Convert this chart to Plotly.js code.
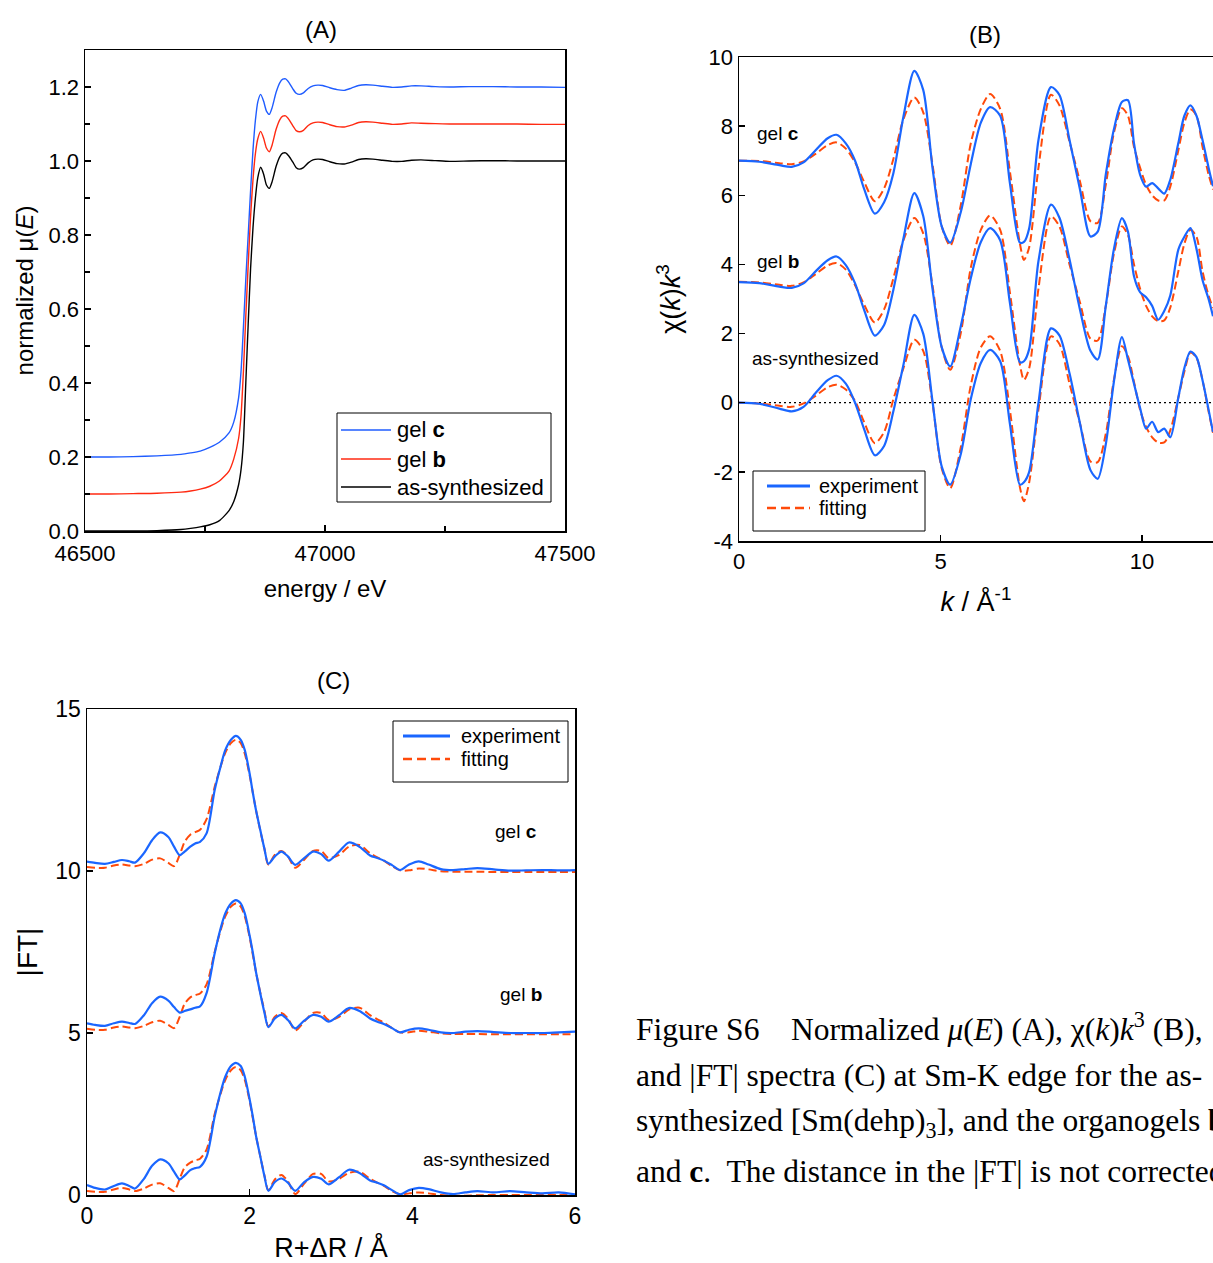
<!DOCTYPE html>
<html>
<head>
<meta charset="utf-8">
<script src="https://cdn.plot.ly/plotly-3.0.1.min.js"></script>
<style>
html,body{margin:0;padding:0;background:#fff;overflow:hidden;}
#chart{width:1213px;height:1263px;}
</style>
</head>
<body>
<div id="chart"></div>
<script>
// ---------- Panel A : normalized mu(E) ----------
const energyA = [46500,46550,46600,46650,46700,46720,46740,46760,46780,46800,
46810,46820,46825,46830,46835,46840,46845,46850,46855,46860,
46866,46872,46878,46884,46890,46898,46906,46912,46918,46925,
46933,46940,46947,46955,46965,46975,46985,46995,47010,47025,
47040,47055,47070,47085,47100,47120,47140,47160,47180,47200,
47230,47260,47300,47350,47400,47450,47500];
const muGelC = [0.200,0.200,0.201,0.203,0.207,0.211,0.216,0.226,0.240,0.265,
0.295,0.360,0.430,0.550,0.680,0.800,0.920,1.030,1.110,1.160,
1.180,1.162,1.135,1.126,1.145,1.185,1.212,1.221,1.222,1.212,
1.195,1.183,1.180,1.184,1.196,1.203,1.205,1.204,1.198,1.193,
1.191,1.197,1.204,1.206,1.205,1.202,1.199,1.200,1.203,1.203,
1.201,1.200,1.201,1.201,1.200,1.200,1.199];
const muGelB = [0.100,0.100,0.101,0.102,0.105,0.108,0.113,0.121,0.135,0.162,
0.195,0.250,0.310,0.430,0.580,0.720,0.850,0.950,1.020,1.060,
1.080,1.062,1.035,1.025,1.044,1.085,1.112,1.121,1.122,1.112,
1.095,1.082,1.079,1.083,1.096,1.103,1.105,1.104,1.098,1.093,
1.092,1.097,1.104,1.106,1.105,1.102,1.099,1.100,1.103,1.102,
1.101,1.100,1.100,1.100,1.100,1.099,1.099];
const muAsSyn = [0.000,0.000,0.000,0.001,0.004,0.007,0.011,0.017,0.028,0.055,
0.080,0.125,0.165,0.240,0.400,0.560,0.710,0.820,0.900,0.955,
0.983,0.965,0.935,0.926,0.945,0.985,1.012,1.021,1.022,1.013,
0.997,0.982,0.978,0.982,0.995,1.003,1.005,1.004,0.998,0.993,
0.992,0.997,1.004,1.006,1.005,1.002,0.999,0.999,1.002,1.003,
1.001,0.999,1.000,1.001,1.000,1.000,1.000];
const tickValsA = [46500, 47000, 47500];
const tickTextA = ['46500', '47000', '47500'];

// ---------- Panel B : chi(k)k^3 ----------
const kB = [0,0.5,1.0,1.31,1.6,1.9,2.2,2.42,2.65,2.88,
3.1,3.37,3.6,3.83,4.08,4.35,4.57,4.8,5.03,5.24,
5.5,5.75,6.0,6.23,6.48,6.72,6.97,7.07,7.2,7.43,
7.74,7.95,8.2,8.46,8.72,8.9,9.1,9.3,9.5,9.65,
9.8,9.95,10.1,10.25,10.4,10.55,10.7,10.9,11.05,11.2,
11.35,11.5,11.65,11.76];
const chiExpGelC = [7.0,6.97,6.87,6.82,6.95,7.3,7.65,7.75,7.5,7.0,
6.2,5.47,5.8,6.64,8.28,9.6,9.05,6.8,5.1,4.63,
5.5,6.9,8.1,8.55,8.3,6.36,4.63,4.65,5.05,7.6,
9.13,8.9,7.6,6.17,4.81,4.95,6.6,7.9,8.7,8.75,
7.5,6.6,6.25,6.35,6.2,6.05,6.45,7.51,8.3,8.6,
8.3,7.6,6.8,6.26];
const chiFitGelC = [7.0,6.99,6.93,6.9,6.98,7.2,7.45,7.53,7.35,6.95,
6.4,5.83,6.2,7.05,8.2,8.83,8.4,6.9,5.1,4.54,
5.7,7.5,8.5,8.93,8.5,6.7,4.6,4.13,4.5,6.8,
8.91,8.6,7.55,6.4,5.25,5.2,6.3,7.8,8.52,8.3,
7.4,6.8,6.3,6.0,5.85,5.85,6.25,7.3,8.1,8.48,
8.3,7.4,6.6,6.17];
const chiExpGelB = [3.49,3.46,3.36,3.32,3.45,3.8,4.12,4.23,3.98,3.45,
2.7,1.94,2.25,3.27,4.75,6.06,5.4,3.3,1.6,1.05,
2.2,3.6,4.65,5.05,4.7,2.9,1.17,1.2,1.55,4.1,
5.73,5.35,4.15,2.69,1.5,1.25,2.8,4.43,5.34,4.95,
3.66,3.2,3.05,2.8,2.4,2.65,3.1,4.43,4.8,5.05,
4.45,3.55,3.0,2.5];
const chiFitGelB = [3.5,3.48,3.41,3.38,3.48,3.72,3.97,4.04,3.85,3.4,
2.85,2.32,2.7,3.6,4.7,5.34,4.9,3.4,1.6,0.95,
2.0,3.9,5.0,5.42,5.0,3.2,1.1,0.66,1.0,3.3,
5.39,5.1,4.0,2.9,1.85,1.8,2.8,4.3,5.1,4.85,
4.0,3.3,2.8,2.5,2.36,2.38,2.75,3.8,4.6,5.0,
4.8,3.8,3.1,2.74];
const chiExpAsSyn = [0,-0.03,-0.17,-0.25,-0.12,0.28,0.65,0.78,0.55,0.0,
-0.75,-1.52,-1.25,-0.25,1.10,2.54,2.0,0.05,-1.85,-2.37,
-1.5,0.1,1.15,1.53,1.2,-0.6,-2.37,-2.3,-2.0,0.0,
2.15,1.95,0.85,-0.6,-1.95,-2.2,-1.2,0.6,1.9,1.25,
0.55,-0.15,-0.75,-0.55,-0.85,-0.75,-1.0,0.15,1.0,1.48,
1.32,0.65,-0.2,-0.85];
const chiFitAsSyn = [0,-0.02,-0.09,-0.12,-0.02,0.2,0.45,0.52,0.38,0.05,
-0.55,-1.17,-0.85,0.1,1.0,1.82,1.5,0.0,-1.9,-2.47,
-1.3,0.5,1.6,1.92,1.5,-0.2,-2.45,-2.85,-2.3,-0.2,
1.92,1.7,0.55,-0.6,-1.7,-1.72,-0.9,0.65,1.63,1.35,
0.6,-0.2,-0.7,-1.0,-1.15,-1.15,-0.8,0.15,0.9,1.45,
1.3,0.65,-0.25,-0.87];
const tickValsB = [-4, -2, 0, 2, 4, 6, 8, 10];
const tickTextB = ['-4', '-2', '0', '2', '4', '6', '8', '10'];

// ---------- Panel C : |FT| ----------
const rC = [0,0.1,0.22,0.33,0.43,0.52,0.59,0.7,0.8,0.9,
1.0,1.07,1.14,1.2,1.27,1.33,1.39,1.47,1.57,1.64,
1.70,1.77,1.83,1.89,1.94,2.0,2.04,2.08,2.13,2.18,
2.23,2.31,2.39,2.47,2.56,2.67,2.78,2.88,2.97,3.1,
3.22,3.35,3.48,3.57,3.65,3.75,3.85,3.96,4.08,4.2,
4.35,4.5,4.65,4.8,5.0,5.2,5.4,5.6,5.8,6.0];
const ftExpGelC = [10.29,10.25,10.22,10.28,10.34,10.30,10.26,10.55,10.95,11.19,
11.05,10.75,10.49,10.60,10.75,10.85,10.90,11.16,12.50,13.20,
13.73,14.05,14.17,14.05,13.73,13.00,12.40,11.85,11.27,10.70,
10.22,10.45,10.60,10.45,10.19,10.40,10.60,10.52,10.32,10.60,
10.88,10.75,10.48,10.40,10.32,10.18,10.03,10.20,10.30,10.20,
10.06,10.03,10.06,10.09,10.05,10.01,10.02,10.03,10.02,10.03];
const ftFitGelC = [10.12,10.10,10.10,10.17,10.20,10.17,10.15,10.22,10.35,10.39,
10.25,10.15,10.50,10.90,11.12,11.20,11.27,11.60,12.60,13.20,
13.65,13.95,14.05,13.95,13.62,12.95,12.40,11.85,11.25,10.70,
10.20,10.50,10.62,10.45,10.10,10.35,10.62,10.62,10.40,10.50,
10.75,10.80,10.55,10.42,10.32,10.15,10.02,10.02,10.08,10.05,
9.99,9.98,9.98,9.98,9.97,9.97,9.97,9.97,9.97,9.97];
const ftExpGelB = [5.30,5.25,5.22,5.30,5.35,5.31,5.28,5.55,5.92,6.12,
6.00,5.80,5.63,5.68,5.73,5.78,5.82,6.23,7.46,8.20,
8.69,9.00,9.10,9.00,8.69,8.00,7.46,6.85,6.23,5.65,
5.18,5.45,5.56,5.40,5.14,5.38,5.56,5.50,5.35,5.55,
5.77,5.68,5.45,5.35,5.28,5.15,5.02,5.10,5.14,5.10,
5.02,5.00,5.04,5.06,5.03,5.00,5.00,5.00,5.02,5.04];
const ftFitGelB = [5.13,5.10,5.10,5.17,5.20,5.17,5.15,5.22,5.33,5.38,
5.25,5.15,5.50,5.90,6.10,6.17,6.22,6.50,7.50,8.15,
8.60,8.90,9.00,8.90,8.60,7.95,7.40,6.85,6.25,5.70,
5.20,5.50,5.62,5.45,5.08,5.35,5.62,5.62,5.40,5.50,
5.72,5.78,5.55,5.42,5.32,5.15,5.02,5.02,5.07,5.04,
4.99,4.97,4.97,4.97,4.96,4.96,4.96,4.96,4.96,4.96];
const ftExpAsSyn = [0.31,0.22,0.17,0.28,0.36,0.28,0.20,0.50,0.90,1.10,
0.98,0.72,0.48,0.60,0.77,0.83,0.87,1.18,2.42,3.15,
3.65,3.98,4.08,3.98,3.65,2.95,2.40,1.80,1.20,0.60,
0.13,0.40,0.51,0.38,0.13,0.40,0.56,0.50,0.33,0.55,
0.78,0.68,0.45,0.38,0.30,0.15,0.02,0.15,0.22,0.18,
0.08,0.03,0.08,0.12,0.08,0.12,0.08,0.05,0.08,0.02];
const ftFitAsSyn = [0.12,0.10,0.10,0.17,0.22,0.17,0.12,0.20,0.32,0.36,
0.22,0.12,0.50,0.85,1.00,1.07,1.12,1.40,2.50,3.10,
3.55,3.85,3.95,3.85,3.55,2.90,2.35,1.80,1.20,0.62,
0.15,0.48,0.62,0.42,0.03,0.35,0.65,0.65,0.42,0.50,
0.68,0.72,0.50,0.38,0.28,0.12,0.02,0.05,0.08,0.05,
0.00,-0.02,-0.02,-0.01,0.00,0.00,0.00,0.00,0.00,0.00];

// ---------- text ----------
const namesA = ['gel <b>c</b>', 'gel <b>b</b>', 'as-synthesized'];
const namesFit = ['experiment', 'fitting'];
const captionLines = [
  'Figure S6\u00a0\u00a0\u00a0\u00a0Normalized <i>μ</i>(<i>E</i>) (A), χ(<i>k</i>)<i>k</i><sup>3</sup> (B),',
  'and |FT| spectra (C) at Sm-K edge for the as-',
  'synthesized [Sm(dehp)<sub>3</sub>], and the organogels <b>b</b>',
  'and <b>c</b>.\u00a0 The distance in the |FT| is not corrected.'
];

const SANS = 'Arial, "Liberation Sans", sans-serif';
const SERIF = '"Liberation Serif", "Times New Roman", serif';
const BLUE_A = '#1f5cff', RED_A = '#ff2a12';
const BLUE = '#1a66ff', ORANGE = '#ff4a0a';
const DASH = '8px,4px';

const traces = [];
const colorsA = [BLUE_A, RED_A, '#000000'];
[muGelC, muGelB, muAsSyn].forEach((y, i) => {
  traces.push({x: energyA, y: y, xaxis: 'x', yaxis: 'y', type: 'scatter', mode: 'lines', name: namesA[i],
    showlegend: false, line: {color: colorsA[i], width: 1.4, shape: 'spline', smoothing: 0.6}});
});
[[chiExpGelC, chiFitGelC], [chiExpGelB, chiFitGelB], [chiExpAsSyn, chiFitAsSyn]].forEach(([e, f]) => {
  traces.push({x: kB, y: f, xaxis: 'x2', yaxis: 'y2', type: 'scatter', mode: 'lines', name: namesFit[1], showlegend: false,
    line: {color: ORANGE, width: 2, dash: DASH, shape: 'spline', smoothing: 0.8}});
  traces.push({x: kB, y: e, xaxis: 'x2', yaxis: 'y2', type: 'scatter', mode: 'lines', name: namesFit[0], showlegend: false,
    line: {color: BLUE, width: 2.2, shape: 'spline', smoothing: 0.8}});
});
[[ftExpGelC, ftFitGelC], [ftExpGelB, ftFitGelB], [ftExpAsSyn, ftFitAsSyn]].forEach(([e, f]) => {
  traces.push({x: rC, y: f, xaxis: 'x3', yaxis: 'y3', type: 'scatter', mode: 'lines', name: namesFit[1], showlegend: false,
    line: {color: ORANGE, width: 2, dash: DASH, shape: 'spline', smoothing: 0.8}});
  traces.push({x: rC, y: e, xaxis: 'x3', yaxis: 'y3', type: 'scatter', mode: 'lines', name: namesFit[0], showlegend: false,
    line: {color: BLUE, width: 2.2, shape: 'spline', smoothing: 0.8}});
});

function axisBase(extra) {
  return Object.assign({
    showline: true, linecolor: '#000', linewidth: 1.5, mirror: true,
    ticks: 'inside', ticklen: 6, tickwidth: 1.3, tickcolor: '#000',
    showgrid: false, zeroline: false, automargin: false,
    tickfont: {family: SANS, size: 22, color: '#000'}
  }, extra);
}
const W = 1213, H = 1263;
const px = v => v / W, py = v => 1 - v / H;

function label(text, x, y, size, xanchor, family) {
  return {text: text, x: px(x), y: py(y), xref: 'paper', yref: 'paper', xanchor: xanchor || 'center', yanchor: 'middle',
    showarrow: false, align: 'left', font: {family: family || SANS, size: size, color: '#000'}};
}
function pline(x0, x1, y, color, width, dash) {
  return {type: 'line', xref: 'paper', yref: 'paper', x0: px(x0), x1: px(x1), y0: py(y), y1: py(y),
    line: {color: color, width: width, dash: dash || 'solid'}};
}
function pbox(x0, x1, y0, y1) {
  return {type: 'rect', xref: 'paper', yref: 'paper', x0: px(x0), x1: px(x1), y0: py(y0), y1: py(y1),
    line: {color: '#000', width: 1}, fillcolor: 'rgba(0,0,0,0)'};
}

const shapes = [
  {type: 'line', xref: 'x2 domain', yref: 'y2', x0: 0, x1: 1, y0: 0, y1: 0,
   line: {color: '#000', width: 1.2, dash: '2px,3px'}, layer: 'below'},
  // legend A
  pbox(337, 551, 413, 502),
  pline(341, 391, 430, BLUE_A, 1.4), pline(341, 391, 459, RED_A, 1.4), pline(341, 391, 487, '#000', 1.4),
  // legend B
  pbox(753, 925, 471, 531),
  pline(767, 810, 486, BLUE, 3), pline(767, 810, 508, ORANGE, 2.5, '9px,5px'),
  // legend C
  pbox(393, 568, 721, 782),
  pline(403, 450, 736, BLUE, 3), pline(403, 450, 759, ORANGE, 2.5, '9px,5px')
];

const annotations = [
  label('(A)', 321, 30, 24), label('(B)', 985, 35, 24), label('(C)', 333, 680, 24),
  label(namesA[0], 395, 430, 22, 'left'), label(namesA[1], 395, 459, 22, 'left'), label(namesA[2], 395, 487, 22, 'left'),
  label(namesFit[0], 817, 486, 20, 'left'), label(namesFit[1], 817, 508, 20, 'left'),
  label(namesFit[0], 459, 736, 20, 'left'), label(namesFit[1], 459, 759, 20, 'left'),
  label('gel <b>c</b>', 755, 133, 19, 'left'), label('gel <b>b</b>', 755, 261, 19, 'left'),
  label('as-synthesized', 750, 358, 19, 'left'),
  label('gel <b>c</b>', 516, 831, 19), label('gel <b>b</b>', 521, 994, 19), label('as-synthesized', 486, 1159, 19)
].concat(captionLines.map((t, i) => label(t, 634, 1027 + 48 * i, 31.5, 'left', SERIF)));

const layout = {
  width: W, height: H,
  margin: {l: 0, r: 0, t: 0, b: 0},
  paper_bgcolor: '#fff', plot_bgcolor: '#fff',
  showlegend: false,
  xaxis: axisBase({domain: [px(85), px(565)], anchor: 'y', range: [46500, 47500],
    tickvals: tickValsA, ticktext: tickTextA, ticklabelstandoff: 2,
    minor: {tickvals: [46750, 47250], ticks: 'inside', ticklen: 5, tickwidth: 1.2, tickcolor: '#000', showgrid: false},
    title: {text: 'energy / eV', font: {family: SANS, size: 24, color: '#000'}, standoff: 15}}),
  yaxis: axisBase({domain: [py(531), py(50)], anchor: 'x', range: [0, 1.3],
    tickvals: [0, 0.2, 0.4, 0.6, 0.8, 1.0, 1.2], tickformat: '.1f',
    minor: {tickvals: [0.1, 0.3, 0.5, 0.7, 0.9, 1.1], ticks: 'inside', ticklen: 5, tickwidth: 1.2, tickcolor: '#000', showgrid: false},
    title: {text: 'normalized μ(<i>E</i>)', font: {family: SANS, size: 24, color: '#000'}, standoff: 8}}),
  xaxis2: axisBase({domain: [px(739), 1], anchor: 'y2', range: [0, 11.76],
    tickvals: [0, 5, 10],
    title: {text: '<i>k</i> / Å<sup>-1</sup>', font: {family: SANS, size: 27, color: '#000'}, standoff: 19}}),
  yaxis2: axisBase({domain: [py(541), py(57)], anchor: 'x2', range: [-4, 10], mirror: false,
    tickvals: tickValsB, ticktext: tickTextB,
    title: {text: 'χ(<i>k</i>)<i>k</i><sup>3</sup>', font: {family: SANS, size: 27, color: '#000'}, standoff: 20}}),
  xaxis3: axisBase({domain: [px(87), px(575)], anchor: 'y3', range: [0, 6],
    tickvals: [0, 2, 4, 6], tickfont: {family: SANS, size: 23, color: '#000'},
    title: {text: 'R+ΔR / Å', font: {family: SANS, size: 27, color: '#000'}, standoff: 13}}),
  yaxis3: axisBase({domain: [py(1195), py(709)], anchor: 'x3', range: [0, 15],
    tickvals: [0, 5, 10, 15], tickfont: {family: SANS, size: 23, color: '#000'},
    title: {text: '|FT|', font: {family: SANS, size: 28, color: '#000'}, standoff: 9}}),
  shapes: shapes,
  annotations: annotations
};

Plotly.newPlot('chart', traces, layout, {displayModeBar: false, staticPlot: true});
</script>
</body>
</html>
